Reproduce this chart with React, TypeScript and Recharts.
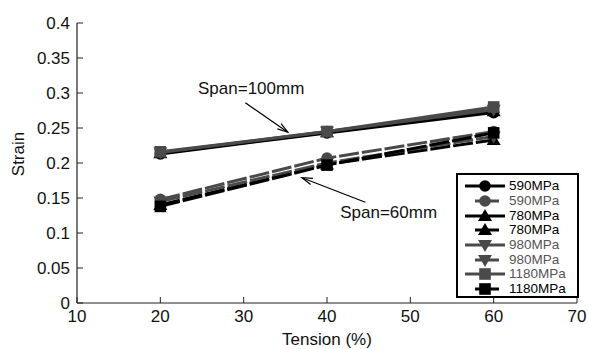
import React from "react";
import {
  LineChart,
  Line,
  XAxis,
  YAxis,
  Legend,
  ReferenceLine,
  ReferenceDot,
} from "recharts";

const tension = [20, 40, 60];

// span = 100 mm (solid lines)
const mpa590Long = [0.213, 0.243, 0.272];
const mpa780Long = [0.214, 0.244, 0.274];
const mpa980Long = [0.215, 0.245, 0.276];
const mpa1180Long = [0.216, 0.245, 0.28];

// span = 60 mm (dashed lines)
const mpa590Short = [0.148, 0.207, 0.245];
const mpa780Short = [0.14, 0.198, 0.233];
const mpa980Short = [0.145, 0.2, 0.238];
const mpa1180Short = [0.138, 0.197, 0.243];

const xTicks = [10, 20, 30, 40, 50, 60, 70];
const yTicks = [0, 0.05, 0.1, 0.15, 0.2, 0.25, 0.3, 0.35, 0.4];

const FONT = "'Liberation Sans', Arial, sans-serif";
const BLACK = "#000000";
const GRAY = "#4a4a4a";
const DASH = "20 3";

type Shape = "circle" | "up" | "down" | "square";

const series = [
  { key: "a", name: "590MPa", values: mpa590Long, color: BLACK, dashed: false, shape: "circle" as Shape },
  { key: "b", name: "590MPa", values: mpa590Short, color: GRAY, dashed: true, shape: "circle" as Shape },
  { key: "c", name: "780MPa", values: mpa780Long, color: BLACK, dashed: false, shape: "up" as Shape },
  { key: "d", name: "780MPa", values: mpa780Short, color: BLACK, dashed: true, shape: "up" as Shape },
  { key: "e", name: "980MPa", values: mpa980Long, color: GRAY, dashed: false, shape: "down" as Shape },
  { key: "f", name: "980MPa", values: mpa980Short, color: GRAY, dashed: true, shape: "down" as Shape },
  { key: "g", name: "1180MPa", values: mpa1180Long, color: GRAY, dashed: false, shape: "square" as Shape },
  { key: "h", name: "1180MPa", values: mpa1180Short, color: BLACK, dashed: true, shape: "square" as Shape },
];

const data = tension.map((t, i) => {
  const row: Record<string, number> = { t };
  series.forEach((s) => {
    row[s.key] = s.values[i];
  });
  return row;
});

function marker(shape: Shape, cx: number, cy: number, color: string, k?: any) {
  if (shape === "circle") return <circle key={k} cx={cx} cy={cy} r={5.8} fill={color} />;
  if (shape === "square")
    return <rect key={k} x={cx - 5.8} y={cy - 5.8} width={11.6} height={11.6} fill={color} />;
  if (shape === "up")
    return (
      <polygon
        key={k}
        points={`${cx},${cy - 7} ${cx + 7},${cy + 5} ${cx - 7},${cy + 5}`}
        fill={color}
      />
    );
  return (
    <polygon
      key={k}
      points={`${cx - 7},${cy - 5} ${cx + 7},${cy - 5} ${cx},${cy + 7}`}
      fill={color}
    />
  );
}

const makeDot = (shape: Shape, color: string) => (props: any) =>
  marker(shape, props.cx, props.cy, color, `${shape}-${props.index}`);

const LeftTick = (props: any) => {
  const { x, y, payload } = props;
  return (
    <g>
      <line x1={x + 7} x2={x + 13} y1={y} y2={y} stroke="#222" strokeWidth={1} />
      <text x={x} y={y} dy="0.36em" textAnchor="end" fontSize={17} fontFamily={FONT} fill="#111">
        {payload.value}
      </text>
    </g>
  );
};

const RightTick = (props: any) => {
  const { x, y } = props;
  return <line x1={x - 7} x2={x} y1={y} y2={y} stroke="#222" strokeWidth={1.5} />;
};

const BottomTick = (props: any) => {
  const { x, y, payload } = props;
  return (
    <g>
      <line x1={x} x2={x} y1={y - 7} y2={y - 13} stroke="#222" strokeWidth={1} />
      <text x={x} y={y} dy="0.71em" textAnchor="middle" fontSize={17} fontFamily={FONT} fill="#111">
        {payload.value}
      </text>
    </g>
  );
};

const Arrow = (props: any) => {
  const { x1, y1, x2, y2 } = props;
  const ang = Math.atan2(y2 - y1, x2 - x1);
  const len = 11;
  const spread = 0.3;
  const p1 = [x2 - len * Math.cos(ang - spread), y2 - len * Math.sin(ang - spread)];
  const p2 = [x2 - len * Math.cos(ang + spread), y2 - len * Math.sin(ang + spread)];
  return (
    <g>
      <line x1={x1} y1={y1} x2={x2} y2={y2} stroke="#000" strokeWidth={1.2} />
      <polyline
        points={`${p1[0]},${p1[1]} ${x2},${y2} ${p2[0]},${p2[1]}`}
        fill="none"
        stroke="#000"
        strokeWidth={1.2}
      />
    </g>
  );
};

const LegendBox = () => (
  <div
    style={{
      border: "2px solid #000",
      background: "#fff",
      boxSizing: "border-box",
      width: 123,
      height: 125,
      padding: "4px 0 0 4px",
      fontFamily: FONT,
    }}
  >
    {series.map((s) => (
      <div key={s.key} style={{ display: "flex", alignItems: "center", height: 14.7 }}>
        <svg width={46} height={14} style={{ display: "block" }}>
          <line
            x1={s.dashed ? 13 : 3}
            x2={s.dashed ? 37 : 43}
            y1={7}
            y2={7}
            stroke={s.color}
            strokeWidth={3}
          />
          {marker(s.shape, 23, 7, s.color)}
        </svg>
        <span style={{ fontSize: 13.5, color: s.color === BLACK ? "#000" : "#555", marginLeft: 1, lineHeight: "14px" }}>
          {s.name}
        </span>
      </div>
    ))}
  </div>
);

export default function App(): JSX.Element {
  return (
    <div style={{ position: "absolute", left: 0, top: 0, background: "#fff" }}>
      <LineChart
        width={589}
        height={349}
        data={data}
        margin={{ top: 23, right: 12, left: 0, bottom: 0 }}
      >
        <XAxis
          dataKey="t"
          type="number"
          domain={[10, 70]}
          ticks={xTicks}
          tickSize={0}
          tickMargin={7}
          height={46}
          tick={<BottomTick />}
          axisLine={{ stroke: "#222", strokeWidth: 1.2 }}
          label={({ viewBox }: any) => (
            <text
              x={viewBox.x + viewBox.width / 2}
              y={viewBox.y + 42}
              textAnchor="middle"
              fontSize={17}
              fontFamily={FONT}
              fill="#111"
            >
              Tension (%)
            </text>
          )}
        />
        <XAxis
          xAxisId="top"
          orientation="top"
          type="number"
          domain={[10, 70]}
          height={0}
          tick={false}
          tickLine={false}
          axisLine={{ stroke: "#666", strokeWidth: 1.5 }}
        />
        <YAxis
          type="number"
          domain={[0, 0.4]}
          ticks={yTicks}
          width={77}
          tickSize={0}
          tickMargin={7}
          tick={<LeftTick />}
          axisLine={{ stroke: "#222", strokeWidth: 1.2 }}
          label={({ viewBox }: any) => {
            const cx = viewBox.x + 18;
            const cy = viewBox.y + viewBox.height / 2 - 9;
            return (
              <text
                x={cx}
                y={cy}
                dy="0.36em"
                textAnchor="middle"
                transform={`rotate(-90, ${cx}, ${cy})`}
                fontSize={17}
                fontFamily={FONT}
                fill="#111"
              >
                Strain
              </text>
            );
          }}
        />
        <YAxis
          yAxisId="right"
          orientation="right"
          type="number"
          domain={[0, 0.4]}
          ticks={yTicks}
          width={0}
          tickSize={0}
          tickMargin={0}
          tick={<RightTick />}
          axisLine={{ stroke: "#666", strokeWidth: 1.5 }}
        />
        {series.map((s) => (
          <Line
            key={s.key}
            dataKey={s.key}
            name={s.name}
            stroke={s.color}
            strokeWidth={3}
            strokeDasharray={s.dashed ? DASH : undefined}
            dot={makeDot(s.shape, s.color)}
            activeDot={false}
            isAnimationActive={false}
          />
        ))}
        <ReferenceLine
          segment={[
            { x: 30.2, y: 0.286 },
            { x: 35.3, y: 0.244 },
          ]}
          shape={<Arrow />}
        />
        <ReferenceLine
          segment={[
            { x: 44.6, y: 0.144 },
            { x: 37.0, y: 0.179 },
          ]}
          shape={<Arrow />}
        />
        <ReferenceDot
          x={30.9}
          y={0.307}
          r={0}
          fill="none"
          stroke="none"
          label={{ value: "Span=100mm", position: "center", fontSize: 17, fontFamily: FONT, fill: "#111" }}
        />
        <ReferenceDot
          x={47.4}
          y={0.13}
          r={0}
          fill="none"
          stroke="none"
          label={{ value: "Span=60mm", position: "center", fontSize: 17, fontFamily: FONT, fill: "#111" }}
        />
        <Legend
          content={<LegendBox />}
          layout="horizontal"
          verticalAlign="middle"
          align="center"
          wrapperStyle={{ left: 456, top: 173, width: 123, height: 125 }}
        />
      </LineChart>
    </div>
  );
}
